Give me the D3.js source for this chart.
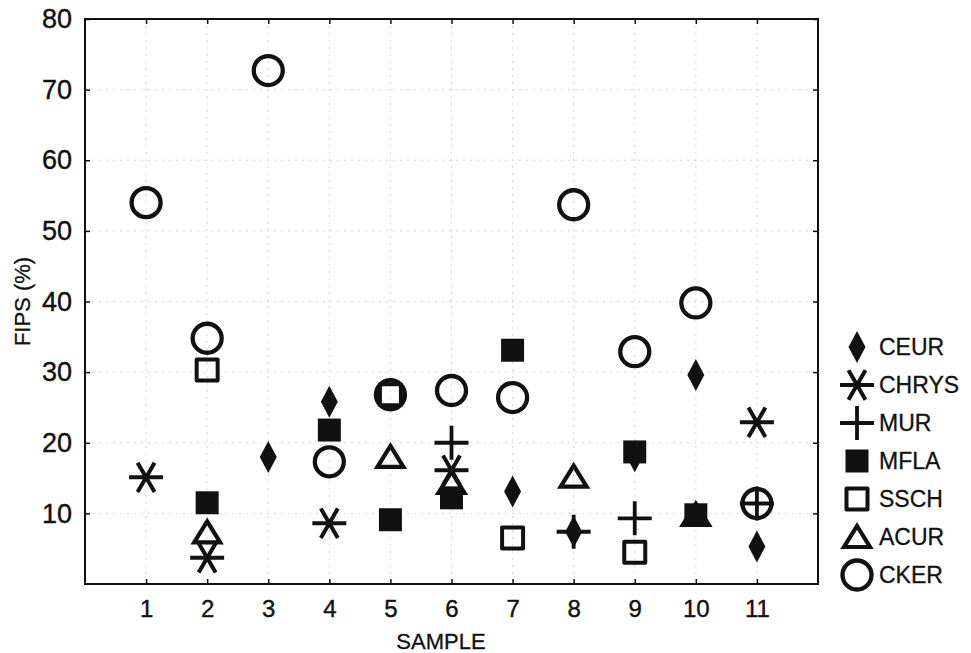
<!DOCTYPE html>
<html>
<head>
<meta charset="utf-8">
<script src="https://cdn.jsdelivr.net/npm/d3@7"></script>
<style>
  body { margin: 0; background: #fff; }
  text { font-family: "Liberation Sans", Arial, sans-serif; fill: #111; }
</style>
</head>
<body>
<svg id="chart" width="971" height="653"></svg>
<script>
// ---- data ----
const samples = [1, 2, 3, 4, 5, 6, 7, 8, 9, 10, 11];
const xTicks = [1, 2, 3, 4, 5, 6, 7, 8, 9, 10, 11];
const yTicks = [10, 20, 30, 40, 50, 60, 70, 80];
const seriesNames = ["CEUR", "CHRYS", "MUR", "MFLA", "SSCH", "ACUR", "CKER"];
const CEUR  = [null, null, 18.0, 25.8, null, null, 13.1, 7.4, 18.1, 29.6, 5.3];
const CHRYS = [15.1, 3.7, null, 8.6, null, 16.1, null, null, null, null, 22.9];
const MUR   = [null, null, null, null, null, 20.0, null, 7.4, 9.3, null, 11.4];
const MFLA  = [null, 11.5, null, 21.8, 9.1, 12.2, 33.1, null, 18.7, 9.8, null];
const SSCH  = [null, 30.3, null, null, 26.8, null, 6.5, null, 4.5, null, null];
const ACUR  = [null, 7.3, null, null, 18.0, 14.3, null, 15.2, null, 9.8, null];
const CKER  = [54.0, 34.8, 72.7, 17.3, 26.8, 27.4, 26.4, 53.7, 32.9, 39.8, 11.4];
const seriesValues = [CEUR, CHRYS, MUR, MFLA, SSCH, ACUR, CKER];

// ---- layout ----
const W = 971, H = 653;
const m = { left: 85, right: 153, top: 19, bottom: 69 };
const svg = d3.select("#chart");
svg.append("rect").attr("width", W).attr("height", H).attr("fill", "#fff");

const x = d3.scaleLinear().domain([0, 12]).range([m.left, W - m.right]);
const y = d3.scaleLinear().domain([0, 80]).range([H - m.bottom, m.top]);

// grid
const grid = svg.append("g").attr("stroke", "#d6d6d6").attr("stroke-width", 1)
  .attr("stroke-dasharray", "2,5");
grid.selectAll("line.v").data(xTicks).join("line")
  .attr("x1", d => x(d)).attr("x2", d => x(d))
  .attr("y1", y(80)).attr("y2", y(0));
grid.selectAll("line.h").data(yTicks.filter(d => d < 80)).join("line")
  .attr("x1", x(0)).attr("x2", x(12))
  .attr("y1", d => y(d)).attr("y2", d => y(d));

// axes (ticks inward), labels drawn by axis generator
const axL = d3.axisLeft(y).tickValues(yTicks).tickSize(-5).tickPadding(13).tickFormat(d3.format("d"));
const axR = d3.axisRight(y).tickValues(yTicks).tickSize(-5).tickFormat("");
const axB = d3.axisBottom(x).tickValues(xTicks).tickSize(-5).tickPadding(16).tickFormat(d3.format("d"));
const axT = d3.axisTop(x).tickValues(xTicks).tickSize(-5).tickFormat("");

function styleAxis(g, fs) {
  g.select(".domain").remove();
  g.selectAll(".tick line").attr("stroke", "#111").attr("stroke-width", 1.5);
  g.selectAll(".tick text").attr("font-size", fs).attr("fill", "#111")
    .attr("stroke", "#111").attr("stroke-width", 0.4)
    .style("font-family", "'Liberation Sans', Arial, sans-serif");
}
svg.append("g").attr("transform", `translate(${x(0)},0)`).call(axL).call(g => styleAxis(g, 27));
svg.append("g").attr("transform", `translate(${x(12)},0)`).call(axR).call(g => styleAxis(g, 27));
svg.append("g").attr("transform", `translate(0,${y(0)})`).call(axB).call(g => styleAxis(g, 24));
svg.append("g").attr("transform", `translate(0,${y(80)})`).call(axT).call(g => styleAxis(g, 24));

// frame
svg.append("rect").attr("x", x(0)).attr("y", y(80))
  .attr("width", x(12) - x(0)).attr("height", y(0) - y(80))
  .attr("fill", "none").attr("stroke", "#111").attr("stroke-width", 2);

// axis titles
svg.append("text").attr("x", 441).attr("y", 649)
  .attr("text-anchor", "middle").attr("font-size", 22)
  .attr("stroke", "#111").attr("stroke-width", 0.3).text("SAMPLE");
svg.append("text").attr("transform", `translate(30,${y(40)}) rotate(-90)`)
  .attr("text-anchor", "middle").attr("font-size", 22)
  .attr("stroke", "#111").attr("stroke-width", 0.3).text("FIPS (%)");

// ---- marker shapes ----
const star6 = (r) => {
  let p = "";
  [0, 60, 120].forEach(a => {
    const t = a * Math.PI / 180, dx = r * Math.cos(t), dy = r * Math.sin(t);
    p += `M${-dx},${-dy}L${dx},${dy}`;
  });
  return p;
};
const shapes = {
  CEUR:  { d: "M0,-16L8.5,0L0,16L-8.5,0Z", fill: "#111", stroke: "none", sw: 0 },
  CHRYS: { d: star6(17), fill: "none", stroke: "#111", sw: 4 },
  MUR:   { d: "M-17,0L17,0M0,-17L0,17", fill: "none", stroke: "#111", sw: 3.8 },
  MFLA:  { d: "M-11.5,-11.5H11.5V11.5H-11.5Z", fill: "#111", stroke: "none", sw: 0 },
  SSCH:  { d: "M-10.5,-10.5H10.5V10.5H-10.5Z", fill: "none", stroke: "#111", sw: 4 },
  ACUR:  { d: "M0,-11L13,10L-13,10Z", fill: "none", stroke: "#111", sw: 4.2, join: "miter" },
  CKER:  { d: d3.arc()({ innerRadius: 0, outerRadius: 14.5, startAngle: 0, endAngle: 2 * Math.PI }), fill: "none", stroke: "#111", sw: 4.3 }
};

function drawMarker(g, name) {
  const s = shapes[name];
  g.append("path").attr("d", s.d).attr("fill", s.fill)
    .attr("stroke", s.stroke).attr("stroke-width", s.sw)
    .attr("stroke-linejoin", s.join || "round");
}

// points
const plot = svg.append("g");
seriesNames.forEach((name, i) => {
  const pts = samples.map((s, j) => ({ s, v: seriesValues[i][j] })).filter(d => d.v != null);
  plot.selectAll(null).data(pts).join("g")
    .attr("transform", d => `translate(${x(d.s)},${y(d.v)})`)
    .each(function () { drawMarker(d3.select(this), name); });
});

// legend
const legY = d3.scalePoint().domain(seriesNames).range([347, 575]);
const leg = svg.append("g");
seriesNames.forEach(name => {
  const g = leg.append("g").attr("transform", `translate(857,${legY(name)})`);
  drawMarker(g, name);
  g.append("text").attr("x", 22).attr("dy", "0.36em").attr("font-size", 23)
    .attr("stroke", "#111").attr("stroke-width", 0.3).text(name);
});
</script>
</body>
</html>
